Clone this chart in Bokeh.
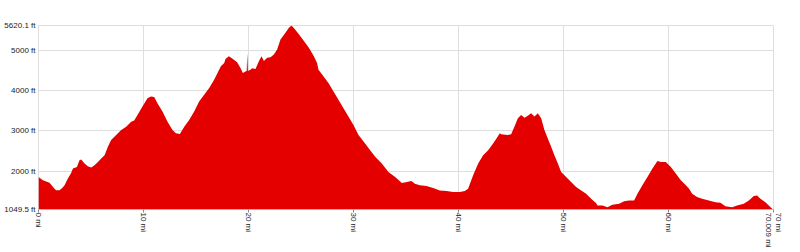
from bokeh.plotting import figure
from bokeh.models import FixedTicker, Range1d
from bokeh.embed import file_html
from bokeh.resources import INLINE

# distance along route (miles)
distance_mi = [
    0.0, 0.42, 1.05, 1.52, 1.69, 2.0, 2.26, 2.48, 2.80, 3.11, 3.28, 3.66, 3.90, 4.07,
    4.38, 4.70, 5.02, 5.33, 5.66, 5.97, 6.29, 6.61, 6.92, 7.40, 7.88, 8.35, 8.83, 9.11,
    9.43, 9.90, 10.38, 10.70, 11.02, 11.33, 11.81, 12.29, 12.76, 13.09, 13.47, 13.88,
    14.35, 14.83, 15.30, 15.78, 16.26, 16.73, 17.05, 17.37, 17.69, 17.81, 18.13, 18.45,
    18.92, 19.24, 19.47, 19.71, 19.83, 19.88, 19.95, 20.19, 20.35, 20.67, 20.99, 21.24,
    21.47, 21.78, 22.10, 22.42, 22.73, 23.05, 23.52, 23.85, 24.10, 24.42, 24.80, 25.28,
    25.75, 26.23, 26.54, 26.67, 27.14, 27.62, 28.10, 28.57, 29.05, 29.52, 30.00, 30.48,
    31.11, 31.59, 32.07, 32.70, 33.33, 33.97, 34.61, 35.09, 35.52, 35.85, 36.32, 36.95,
    37.59, 38.23, 38.86, 39.50, 40.13, 40.61, 40.92, 41.40, 41.88, 42.35, 42.83, 43.30,
    43.62, 43.94, 44.06, 44.70, 45.02, 45.33, 45.66, 45.97, 46.29, 46.61, 46.92, 47.24,
    47.56, 47.88, 48.19, 48.51, 48.83, 49.14, 49.47, 49.78, 50.26, 50.73, 51.21, 51.69,
    52.16, 52.64, 53.12, 53.24, 53.71, 54.19, 54.67, 55.30, 55.78, 56.25, 56.73, 57.05,
    57.52, 58.00, 58.48, 58.95, 59.28, 59.75, 60.23, 60.70, 61.18, 61.66, 61.97, 62.26,
    62.73, 63.21, 63.85, 64.48, 64.95, 65.43, 66.07, 66.54, 67.18, 67.66, 68.13, 68.45,
    68.76, 69.24, 69.56, 69.88, 70.009,
]

# elevation (feet)
elevation_ft = [
    1855, 1775, 1717, 1567, 1525, 1525, 1582, 1650, 1817, 1957, 2067, 2107, 2274, 2290,
    2190, 2124, 2090, 2150, 2232, 2316, 2400, 2607, 2774, 2900, 3024, 3107, 3232, 3260,
    3400, 3607, 3816, 3857, 3845, 3690, 3482, 3232, 3024, 2941, 2924, 3107,
    3274, 3482, 3732, 3900, 4066, 4274, 4441, 4607, 4690, 4791, 4857, 4800,
    4707, 4566, 4441, 4480, 4490, 4930, 4490, 4524, 4560, 4540, 4733, 4857,
    4740, 4816, 4830, 4900, 5024, 5274, 5441, 5566, 5620, 5524, 5400, 5232,
    5066, 4857, 4680, 4524, 4357, 4191, 3982, 3774, 3566, 3357, 3149, 2900,
    2691, 2524, 2357, 2191, 1982, 1857, 1707, 1732, 1757, 1690, 1649, 1632,
    1582, 1524, 1507, 1482, 1482, 1507, 1566, 1899, 2191, 2400, 2524, 2691,
    2816, 2941, 2916, 2899, 2920, 3107, 3316, 3399, 3330, 3380, 3441, 3360,
    3441, 3316, 3024, 2816, 2607, 2400, 2191, 1982, 1857, 1732, 1607, 1524,
    1441, 1316, 1207, 1149, 1149, 1107, 1166, 1191, 1257, 1274, 1274, 1441,
    1649, 1857, 2066, 2257, 2230, 2232, 2107, 1941, 1774, 1649, 1566, 1441,
    1357, 1316, 1274, 1232, 1220, 1132, 1107, 1149, 1191, 1274, 1382, 1399,
    1316, 1232, 1149, 1066, 1050,
]

y_min = 1049.5
y_max = 5620.1
x_max = 70.009

y_ticks = [1049.5, 2000, 3000, 4000, 5000, 5620.1]
y_tick_labels = ["1049.5 ft", "2000 ft", "3000 ft", "4000 ft", "5000 ft", "5620.1 ft"]
x_ticks = [0, 10, 20, 30, 40, 50, 60, 70]
x_tick_labels = ["0 mi", "10 mi", "20 mi", "30 mi", "40 mi", "50 mi", "60 mi", "70 mi\n70.009 mi"]

FONT = "Liberation Sans"
FS = "8px"
GRID = "#dedede"

p = figure(width=800, height=252, output_backend="svg", toolbar_location=None,
           x_range=Range1d(0, x_max), y_range=Range1d(y_min, y_max),
           min_border_left=38, min_border_right=27, min_border_top=25, min_border_bottom=43)
p.background_fill_color = "white"
p.border_fill_color = "white"
p.outline_line_color = GRID
p.outline_line_width = 1

p.varea(x=distance_mi, y1=[y_min] * len(distance_mi), y2=elevation_ft,
        fill_color="#e50000", fill_alpha=1.0)

p.yaxis.ticker = FixedTicker(ticks=y_ticks)
p.yaxis.major_label_overrides = {t: l for t, l in zip(y_ticks, y_tick_labels)}
p.xaxis.ticker = FixedTicker(ticks=x_ticks)
p.xaxis.major_label_overrides = {t: l for t, l in zip(x_ticks, x_tick_labels)}
p.xaxis.major_label_orientation = "vertical"

for ax in (p.xaxis, p.yaxis):
    ax.axis_line_color = None
    ax.minor_tick_line_color = None
    ax.minor_tick_in = 0
    ax.minor_tick_out = 0
    ax.major_label_text_font = FONT
    ax.major_label_text_font_size = FS
    ax.major_label_text_color = "#222222"

p.yaxis.major_tick_line_color = None
p.yaxis.major_tick_in = 0
p.yaxis.major_tick_out = 0
p.yaxis.major_label_standoff = 3
p.xaxis.major_tick_line_color = "#888888"
p.xaxis.major_tick_out = 3
p.xaxis.major_tick_in = 0
p.xaxis.major_label_standoff = 0

p.xgrid.ticker = FixedTicker(ticks=x_ticks)
p.ygrid.ticker = FixedTicker(ticks=y_ticks)
p.grid.grid_line_color = GRID
p.grid.grid_line_width = 1

open("out.html", "w").write(file_html(p, INLINE))
